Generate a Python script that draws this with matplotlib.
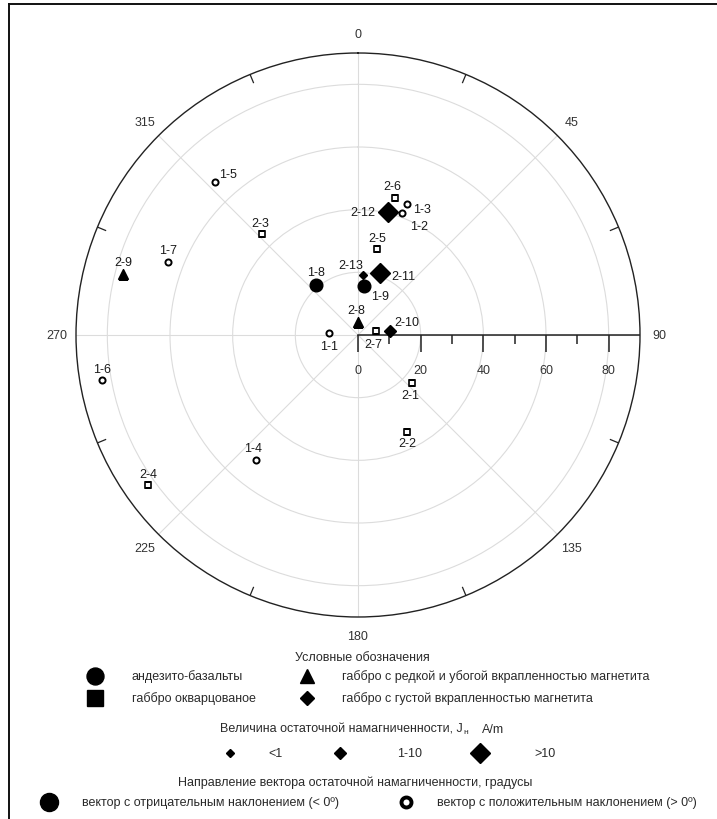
import numpy as np
import matplotlib.pyplot as plt

plt.rcParams['font.family'] = ['Liberation Sans', 'DejaVu Sans']
plt.rcParams['font.size'] = 9

# samples: declination (deg, clockwise from N) and plotted inclination value
names = ['1-1', '1-2', '1-3', '1-4', '1-5', '1-6', '1-7', '1-8', '1-9',
         '2-1', '2-2', '2-3', '2-4', '2-5', '2-6', '2-7',
         '2-8', '2-9', '2-10', '2-11', '2-12', '2-13']
decl = [273, 20, 20.5, 219, 317, 260, 291, 320, 7,
        131.5, 153, 316.5, 234.5, 12.5, 15, 77.5,
        0, 284.5, 83, 19.5, 13.5, 5]
incl = [9.3, 41.5, 44.7, 51.5, 66.9, 83.1, 65.0, 20.9, 15.8,
        23.1, 34.7, 44.5, 82.2, 28.1, 45.3, 5.9,
        4.2, 77.5, 10.3, 21.0, 40.4, 19.2]
# rock: a - andesite-basalt, q - silicified gabbro, r - sparse magnetite, d - dense magnetite
rock = ['a'] * 9 + ['q'] * 7 + ['r'] * 2 + ['d'] * 4
negative = [False] * 7 + [True, True] + [False] * 7 + [True] * 6
# Jn class for the gabbro with dense magnetite: 0 (<1), 1 (1-10), 2 (>10)
jn_class = [None] * 18 + [1, 2, 2, 0]

angle_ticks = [0, 45, 90, 135, 180, 225, 270, 315]
r_ticks = [0, 20, 40, 60, 80]
r_minor = [10, 30, 50, 70]

# label offsets in pixels
label_off = {
    '1-1': (0, -13), '1-2': (17, -13), '1-3': (15, -5), '1-4': (-3, 12),
    '1-5': (13, 8), '1-6': (0, 11), '1-7': (0, 12), '1-8': (0, 13),
    '1-9': (16, -10), '2-1': (-2, -12), '2-2': (0, -11), '2-3': (-2, 11),
    '2-4': (0, 11), '2-5': (0, 11), '2-6': (-2, 12), '2-7': (-3, -13),
    '2-8': (-2, 12), '2-9': (0, 12), '2-10': (17, 9), '2-11': (23, -3),
    '2-12': (-25, 0), '2-13': (-12, 10),
}

W, H = 717, 820
fig = plt.figure(figsize=(W / 100, H / 100), dpi=100)

# page overlay in pixel coordinates: frame and legend
lax = fig.add_axes([0, 0, 1, 1], zorder=0)
lax.set_xlim(0, W)
lax.set_ylim(H, 0)
lax.axis('off')

cx, cy, R = 358, 336, 282
ax = fig.add_axes([(cx - R) / W, (H - cy - R) / H, 2 * R / W, 2 * R / H],
                  projection='polar', zorder=1)
ax.set_facecolor('none')
ax.set_theta_zero_location('N')
ax.set_theta_direction(-1)
ax.set_ylim(0, 90)
ax.set_xticks(np.deg2rad(angle_ticks))
ax.set_xticklabels([str(a) for a in angle_ticks], color='#333333')
ax.tick_params(axis='x', pad=7, length=0)
ax.set_yticks([20, 40, 60, 80])
ax.set_yticklabels([])
ax.grid(True, color='#dcdcdc', lw=0.8)
ax.spines['polar'].set_color('#222222')
ax.spines['polar'].set_linewidth(1.0)

# small inward ticks on the rim between the labelled directions
for a in np.arange(22.5, 360, 45):
    t = np.deg2rad(a)
    ax.plot([t, t], [87.2, 90], color='#222222', lw=0.9)

# radial scale along the 90 direction
east = np.pi / 2
ax.plot([east, east], [0, 90], color='#222222', lw=1.1, zorder=3)
ax.plot(np.full(len(r_ticks), east), r_ticks, ls='none', marker=3, ms=12,
        mew=1.1, color='#222222', zorder=3)
ax.plot(np.full(len(r_minor), east), r_minor, ls='none', marker=3, ms=6.5,
        mew=1.1, color='#222222', zorder=3)
for v in r_ticks:
    ax.annotate(str(v), (east, v), xytext=(0, -35), textcoords='offset pixels',
                ha='center', va='center', color='#333333')

dia_ms = [4.1, 6.6, 10.2]
for i, nm in enumerate(names):
    th = np.deg2rad(decl[i])
    r = incl[i]
    if rock[i] == 'a':
        if negative[i]:
            kw = dict(marker='o', ms=9.1, mfc='k', mec='k')
        else:
            kw = dict(marker='o', ms=4.4, mfc='white', mec='k', mew=1.4)
    elif rock[i] == 'q':
        kw = dict(marker='s', ms=4.8, mfc='white', mec='k', mew=1.2)
    elif rock[i] == 'r':
        kw = dict(marker='^', ms=7, mfc='k', mec='k')
    else:
        kw = dict(marker='D', ms=dia_ms[jn_class[i]], mfc='k', mec='k')
    ax.plot([th], [r], ls='none', zorder=4, **kw)
    ax.annotate(nm, (th, r), xytext=label_off[nm], textcoords='offset pixels',
                ha='center', va='center', color='#1a1a1a', zorder=5)

# frame
lax.plot([9, W], [5, 5], color='#111111', lw=1.4)
lax.plot([9, 9], [5, H], color='#111111', lw=1.4)

txt = '#2a2a2a'
# legend: rock types
lax.text(295, 658, 'Условные обозначения', ha='left', va='center', color=txt)
lax.plot(95, 677, marker='o', ms=12.2, color='k')
lax.plot(95, 699, marker='s', ms=11.5, color='k')
lax.text(132, 677, 'андезито-базальты', ha='left', va='center', color=txt)
lax.text(132, 699, 'габбро окварцованое', ha='left', va='center', color=txt)
lax.plot(307, 677, marker='^', ms=9.4, color='k')
lax.plot(307, 699, marker='D', ms=7.5, color='k')
lax.text(342, 677, 'габбро с редкой и убогой вкрапленностью магнетита',
         ha='left', va='center', color=txt)
lax.text(342, 699, 'габбро с густой вкрапленностью магнетита',
         ha='left', va='center', color=txt)

# legend: Jn classes
jn_title = lax.text(220, 730, 'Величина остаточной намагниченности, J',
                    ha='left', va='center', color=txt)
fig.canvas.draw()
bb = jn_title.get_window_extent().transformed(lax.transData.inverted())
jx = max(bb.x0, bb.x1)
lax.text(jx + 1, 733, 'н', ha='left', va='center', fontsize=6, color=txt)
lax.text(jx + 19, 730, 'A/m', ha='left', va='center', color=txt)
jn_labels = ['<1', '1-10', '>10']
jn_x = [230, 340, 480]
jn_lx = [268, 397, 534]
for k in range(3):
    lax.plot(jn_x[k], 754, marker='D', ms=dia_ms[k] * 0.9 + 0.5, color='k')
    lax.text(jn_lx[k], 754, jn_labels[k], ha='left', va='center', color=txt)

# legend: inclination sign
lax.text(178, 783, 'Направление вектора остаточной намагниченности, градусы',
         ha='left', va='center', color=txt)
lax.plot(49, 803, marker='o', ms=13, color='k')
lax.text(82, 803, 'вектор с отрицательным наклонением (< 0º)', ha='left',
         va='center', color=txt)
lax.plot(406, 803, marker='o', ms=7.2, mfc='white', mec='k', mew=2.8)
lax.text(437, 803, 'вектор с положительным наклонением (> 0º)', ha='left',
         va='center', color=txt)

fig.savefig('out.png', dpi=100)
